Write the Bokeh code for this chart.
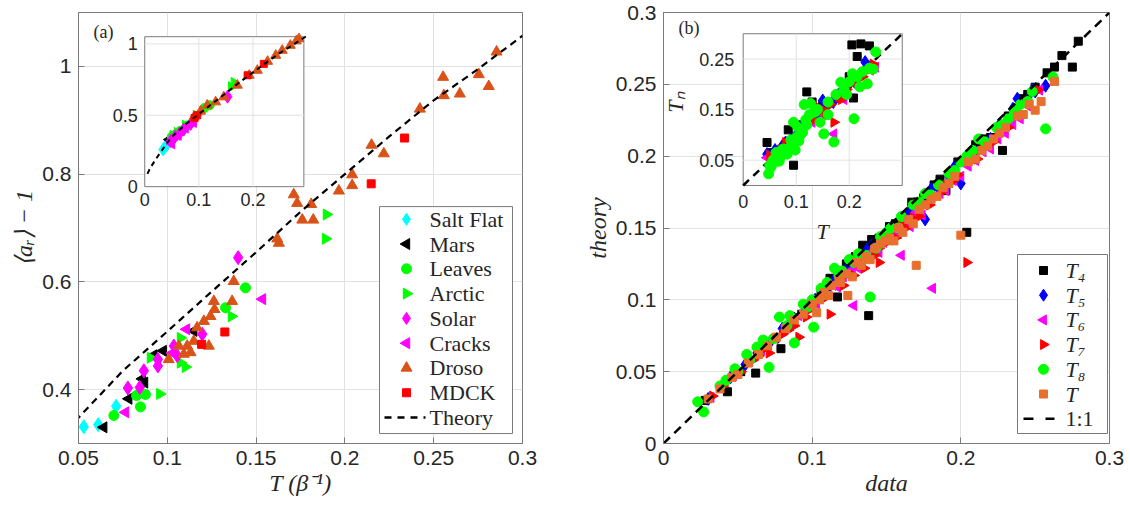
import math
from bokeh.plotting import figure
from bokeh.models import Range1d, FixedTicker, Label, CustomJSTickFormatter, ColumnDataSource
from bokeh.layouts import row
from bokeh.core.properties import value
from bokeh.embed import file_html
from bokeh.resources import INLINE

SANS = "Liberation Sans"
SERIF = "Liberation Serif"

# ---------------- Panel (a) data: T vs <a_r>-1 ----------------
salt_T = [0.053, 0.0611, 0.0712]
salt_a = [0.331, 0.335, 0.369]
mars_T = [0.0642, 0.0783, 0.0859, 0.0872, 0.0924, 0.0977, 0.1149]
mars_a = [0.330, 0.383, 0.420, 0.413, 0.464, 0.472, 0.509]
leaves_T = [0.0699, 0.0849, 0.0827, 0.0877, 0.1440, 0.1328]
leaves_a = [0.352, 0.368, 0.389, 0.391, 0.589, 0.552]
arctic_T = [0.0958, 0.0905, 0.1074, 0.1074, 0.1102, 0.1361, 0.1896, 0.1891]
arctic_a = [0.392, 0.459, 0.496, 0.450, 0.442, 0.536, 0.725, 0.680]
solar_T = [0.1399, 0.0778, 0.0845, 0.0868, 0.0947, 0.0947, 0.1037, 0.1197, 0.1056]
solar_a = [0.645, 0.403, 0.404, 0.435, 0.456, 0.444, 0.481, 0.503, 0.463]
cracks_T = [0.0765, 0.1108, 0.1536, 0.1029]
cracks_a = [0.358, 0.512, 0.568, 0.468]
droso_T = [0.1374, 0.1365, 0.1262, 0.1266, 0.1243, 0.1206, 0.1168, 0.1234, 0.1149, 0.1112,
           0.1131, 0.1093, 0.1065, 0.1008, 0.2854, 0.2553, 0.2557, 0.2647, 0.2754, 0.2810,
           0.2422, 0.2150, 0.2219, 0.2041, 0.2041, 0.1966, 0.1712, 0.1731, 0.1810, 0.1760,
           0.1822, 0.1619, 0.1628]
droso_a = [0.601, 0.564, 0.564, 0.549, 0.536, 0.527, 0.515, 0.481, 0.490, 0.481,
           0.469, 0.466, 0.481, 0.456, 1.027, 0.980, 0.946, 0.949, 0.985, 0.963,
           0.921, 0.854, 0.838, 0.799, 0.779, 0.769, 0.762, 0.746, 0.744, 0.715,
           0.715, 0.680, 0.672]
mdck_T = [0.2336, 0.2148, 0.1324, 0.1193]
mdck_a = [0.867, 0.782, 0.507, 0.484]
theory_T = [0.005, 0.01, 0.02, 0.03, 0.04, 0.05, 0.075, 0.1, 0.125, 0.15, 0.175, 0.2, 0.225, 0.25, 0.275, 0.3]
theory_a = [0.09, 0.13, 0.19, 0.245, 0.30, 0.348, 0.435, 0.508, 0.582, 0.655, 0.73, 0.80, 0.87, 0.937, 0.995, 1.057]

# inset (a) data
in_salt_T = [0.034, 0.038, 0.042]
in_salt_a = [0.26, 0.28, 0.30]
in_mars_T = [0.045, 0.050, 0.055, 0.060, 0.068]
in_mars_a = [0.33, 0.34, 0.36, 0.38, 0.40]
in_leaves_T = [0.050, 0.058, 0.065, 0.080, 0.110, 0.120]
in_leaves_a = [0.35, 0.37, 0.39, 0.43, 0.55, 0.57]
in_arctic_T = [0.052, 0.060, 0.075, 0.095, 0.160, 0.165]
in_arctic_a = [0.36, 0.38, 0.43, 0.50, 0.70, 0.73]
in_solar_T = [0.048, 0.056, 0.064, 0.072, 0.085, 0.153]
in_solar_a = [0.32, 0.35, 0.37, 0.40, 0.44, 0.63]
in_cracks_T = [0.050, 0.062, 0.075, 0.090]
in_cracks_a = [0.30, 0.36, 0.41, 0.45]
in_droso_T = [0.091, 0.103, 0.1155, 0.131, 0.146, 0.171, 0.193, 0.208, 0.227, 0.242, 0.254, 0.269, 0.280, 0.285]
in_droso_a = [0.488, 0.528, 0.570, 0.593, 0.628, 0.710, 0.779, 0.814, 0.877, 0.919, 0.954, 0.989, 1.02, 1.035]
in_mdck_T = [0.092, 0.097, 0.190, 0.220]
in_mdck_a = [0.48, 0.50, 0.78, 0.86]

a_xticks = [0.05, 0.1, 0.15, 0.2, 0.25, 0.3]
a_yticks = [0.4, 0.6, 0.8, 1.0]
ina_xticks = [0, 0.1, 0.2]
ina_xlabels = ["0", "0.1", "0.2"]
ina_yticks = [0, 0.5, 1]
ina_ylabels = ["0", "0.5", "1"]

# ---------------- Panel (b) data: data vs theory ----------------
t4_x = [0.028, 0.043, 0.052, 0.062, 0.070, 0.079, 0.086, 0.093, 0.100, 0.106, 0.112, 0.117, 0.123, 0.129,
        0.134, 0.140, 0.146, 0.152, 0.160, 0.167, 0.175, 0.182, 0.190, 0.198, 0.210, 0.220, 0.228, 0.240,
        0.250, 0.258, 0.263, 0.268, 0.275, 0.279, 0.138, 0.204,
        0.075, 0.097, 0.108, 0.114, 0.126, 0.145, 0.156, 0.171, 0.186, 0.215, 0.232, 0.245]
t4_y = [0.030, 0.036, 0.050, 0.049, 0.068, 0.066, 0.086, 0.090, 0.098, 0.106, 0.115, 0.102, 0.125, 0.130,
        0.138, 0.142, 0.140, 0.151, 0.156, 0.168, 0.171, 0.180, 0.176, 0.196, 0.208, 0.213, 0.204, 0.240,
        0.248, 0.258, 0.262, 0.270, 0.262, 0.280, 0.089, 0.147,
        0.073, 0.095, 0.104, 0.110, 0.122, 0.143, 0.153, 0.168, 0.184, 0.212, 0.228, 0.243]
t5_x = [0.030, 0.045, 0.055, 0.063, 0.072, 0.080, 0.088, 0.095, 0.102, 0.108, 0.115, 0.122, 0.130, 0.137,
        0.145, 0.153, 0.160, 0.168, 0.176, 0.184, 0.192, 0.200, 0.210, 0.220, 0.230, 0.238, 0.244, 0.250, 0.257,
        0.085, 0.098, 0.112, 0.126, 0.140, 0.150, 0.165, 0.180, 0.196, 0.205, 0.215, 0.226, 0.235, 0.248]
t5_y = [0.031, 0.046, 0.055, 0.063, 0.071, 0.080, 0.087, 0.095, 0.100, 0.108, 0.114, 0.120, 0.128, 0.135,
        0.142, 0.150, 0.156, 0.163, 0.156, 0.179, 0.186, 0.181, 0.203, 0.212, 0.222, 0.240, 0.238, 0.245, 0.249,
        0.083, 0.096, 0.110, 0.124, 0.138, 0.146, 0.161, 0.177, 0.193, 0.199, 0.209, 0.222, 0.233, 0.246]
t6_x = [0.032, 0.047, 0.058, 0.066, 0.075, 0.083, 0.091, 0.099, 0.107, 0.114, 0.121, 0.127, 0.134, 0.141,
        0.148, 0.155, 0.162, 0.170, 0.178, 0.186, 0.195, 0.205, 0.215, 0.225, 0.235, 0.245, 0.253, 0.128,
        0.181, 0.160,
        0.088, 0.103, 0.117, 0.131, 0.145, 0.158, 0.166, 0.174, 0.190, 0.200, 0.210, 0.220, 0.230, 0.240]
t6_y = [0.032, 0.047, 0.057, 0.065, 0.073, 0.082, 0.089, 0.097, 0.103, 0.110, 0.116, 0.121, 0.128, 0.134,
        0.140, 0.147, 0.153, 0.161, 0.168, 0.174, 0.183, 0.193, 0.203, 0.212, 0.222, 0.235, 0.246, 0.096,
        0.108, 0.131,
        0.084, 0.097, 0.109, 0.122, 0.133, 0.146, 0.151, 0.159, 0.176, 0.186, 0.197, 0.205, 0.216, 0.226]
t7_x = [0.033, 0.040, 0.052, 0.060, 0.068, 0.071, 0.080, 0.088, 0.091, 0.098, 0.105, 0.112, 0.118, 0.124,
        0.131, 0.138, 0.145, 0.152, 0.160, 0.168, 0.175, 0.183, 0.190, 0.198, 0.206, 0.215, 0.225, 0.235,
        0.244, 0.252, 0.204, 0.145,
        0.064, 0.084, 0.096, 0.108, 0.121, 0.128, 0.135, 0.142, 0.156, 0.163, 0.172, 0.179, 0.187, 0.195,
        0.211, 0.222, 0.232]
t7_y = [0.033, 0.040, 0.050, 0.058, 0.066, 0.063, 0.076, 0.082, 0.074, 0.093, 0.100, 0.090, 0.113, 0.118,
        0.126, 0.130, 0.136, 0.141, 0.152, 0.157, 0.166, 0.172, 0.180, 0.187, 0.196, 0.206, 0.218, 0.228,
        0.238, 0.246, 0.126, 0.126,
        0.061, 0.079, 0.088, 0.101, 0.110, 0.117, 0.122, 0.131, 0.143, 0.150, 0.158, 0.166, 0.175, 0.183,
        0.198, 0.210, 0.220]
t8_x = [0.023, 0.027, 0.038, 0.042, 0.050, 0.056, 0.063, 0.067, 0.071, 0.078, 0.083, 0.088, 0.094, 0.101,
        0.106, 0.110, 0.115, 0.120, 0.125, 0.131, 0.139, 0.146, 0.153, 0.160, 0.168, 0.176, 0.185, 0.192,
        0.200, 0.208, 0.216, 0.224, 0.232, 0.240, 0.248, 0.257, 0.262, 0.063, 0.100,
        0.048, 0.058, 0.074, 0.085, 0.097, 0.108, 0.118, 0.128, 0.136, 0.143, 0.150, 0.158, 0.172, 0.180,
        0.196, 0.204, 0.212, 0.228, 0.236, 0.245]
t8_y = [0.029, 0.022, 0.040, 0.044, 0.050, 0.062, 0.067, 0.072, 0.053, 0.088, 0.082, 0.070, 0.097, 0.081,
        0.108, 0.112, 0.122, 0.120, 0.128, 0.132, 0.102, 0.144, 0.150, 0.158, 0.166, 0.174, 0.180, 0.188,
        0.196, 0.204, 0.210, 0.220, 0.226, 0.236, 0.245, 0.219, 0.255, 0.067, 0.100,
        0.052, 0.058, 0.073, 0.089, 0.095, 0.104, 0.117, 0.126, 0.131, 0.136, 0.147, 0.150, 0.168, 0.173,
        0.190, 0.200, 0.212, 0.222, 0.231, 0.238]
tt_x = [0.030, 0.038, 0.046, 0.050, 0.057, 0.064, 0.070, 0.076, 0.082, 0.088, 0.094, 0.100, 0.103, 0.108,
        0.113, 0.118, 0.123, 0.124, 0.130, 0.136, 0.142, 0.146, 0.152, 0.158, 0.165, 0.172, 0.180, 0.188,
        0.196, 0.205, 0.214, 0.222, 0.230, 0.238, 0.246, 0.254, 0.263, 0.170, 0.200,
        0.105, 0.111, 0.119, 0.127, 0.133, 0.139, 0.149, 0.155, 0.161, 0.168, 0.176, 0.184, 0.192, 0.210,
        0.218, 0.226, 0.242, 0.250]
tt_y = [0.031, 0.038, 0.046, 0.048, 0.056, 0.062, 0.068, 0.074, 0.080, 0.086, 0.090, 0.097, 0.091, 0.105,
        0.110, 0.114, 0.118, 0.103, 0.126, 0.130, 0.136, 0.139, 0.143, 0.150, 0.156, 0.163, 0.170, 0.178,
        0.186, 0.196, 0.204, 0.212, 0.220, 0.228, 0.236, 0.238, 0.252, 0.124, 0.145,
        0.100, 0.103, 0.112, 0.116, 0.124, 0.128, 0.141, 0.141, 0.147, 0.153, 0.166, 0.172, 0.181, 0.198,
        0.207, 0.216, 0.229, 0.232]
one_to_one = [0.0, 0.3]

# inset (b): T vs T_n
in4_x = [0.045, 0.055, 0.070, 0.085, 0.095, 0.105, 0.120, 0.130, 0.150, 0.175, 0.200, 0.205, 0.215, 0.222, 0.238, 0.208]
in4_y = [0.085, 0.065, 0.060, 0.110, 0.040, 0.120, 0.185, 0.165, 0.160, 0.175, 0.215, 0.278, 0.255, 0.280, 0.276, 0.173]
in5_x = [0.045, 0.060, 0.075, 0.090, 0.110, 0.130, 0.150, 0.170, 0.190, 0.210, 0.230, 0.240,
         0.055, 0.080, 0.100, 0.120, 0.140, 0.160, 0.180, 0.200, 0.220]
in5_y = [0.062, 0.070, 0.080, 0.090, 0.115, 0.135, 0.168, 0.165, 0.190, 0.205, 0.244, 0.235,
         0.060, 0.085, 0.100, 0.125, 0.140, 0.160, 0.180, 0.200, 0.220]
in6_x = [0.045, 0.065, 0.085, 0.110, 0.130, 0.150, 0.171, 0.190, 0.215, 0.240, 0.250]
in6_y = [0.055, 0.065, 0.080, 0.110, 0.125, 0.140, 0.102, 0.170, 0.200, 0.228, 0.234]
in7_x = [0.050, 0.061, 0.080, 0.095, 0.110, 0.125, 0.140, 0.155, 0.171, 0.185, 0.200, 0.215, 0.230, 0.245,
         0.070, 0.085, 0.100, 0.118, 0.132, 0.150, 0.165, 0.180, 0.195, 0.210, 0.225]
in7_y = [0.060, 0.050, 0.085, 0.075, 0.110, 0.125, 0.155, 0.140, 0.125, 0.170, 0.200, 0.210, 0.225, 0.240,
         0.070, 0.080, 0.095, 0.120, 0.130, 0.150, 0.160, 0.175, 0.190, 0.205, 0.215]
in8_x = [0.048, 0.052, 0.058, 0.065, 0.072, 0.080, 0.088, 0.096, 0.100, 0.105, 0.112, 0.120, 0.127, 0.135,
         0.145, 0.152, 0.160, 0.171, 0.184, 0.195, 0.206, 0.209, 0.220, 0.234, 0.245, 0.250, 0.095, 0.115,
         0.050, 0.056, 0.062, 0.068, 0.075, 0.083, 0.090, 0.098, 0.103, 0.108, 0.118, 0.125, 0.140, 0.160,
         0.175, 0.190, 0.200, 0.215, 0.225, 0.238]
in8_y = [0.023, 0.036, 0.045, 0.055, 0.060, 0.070, 0.075, 0.082, 0.095, 0.088, 0.105, 0.120, 0.162, 0.145,
         0.125, 0.102, 0.140, 0.086, 0.204, 0.180, 0.221, 0.132, 0.195, 0.201, 0.230, 0.264, 0.125, 0.160,
         0.040, 0.050, 0.065, 0.048, 0.072, 0.062, 0.090, 0.070, 0.115, 0.100, 0.130, 0.140, 0.150, 0.165,
         0.180, 0.190, 0.205, 0.215, 0.225, 0.232]

b_ticks = [0, 0.05, 0.1, 0.15, 0.2, 0.25, 0.3]
b_xticks = [0, 0.1, 0.2, 0.3]
inb_xticks = [0, 0.1, 0.2]
inb_xlabels = ["0", "0.1", "0.2"]
inb_yticks = [0.05, 0.15, 0.25]
inb_ylabels = ["0.05", "0.15", "0.25"]

# ---------------- styling / layout constants ----------------
AX = "#7a7a7a"
TXT = "#262626"
GRID = "#e2e2e2"

# legend boxes, in pixels measured from the frame's bottom-left corner
LEG_A = dict(left=301, right=434, bottom=10, top=238, mark_x=328, text_x=351,
             line=(306, 347), row0=225.3, dy=24.9)
LEG_B = dict(left=354, right=444, bottom=10, top=189, mark_x=380, text_x=402,
             line=(360, 391), row0=173.0, dy=24.7)


def style(p):
    p.outline_line_color = AX
    p.outline_line_width = 1
    p.grid.grid_line_color = GRID
    p.grid.grid_line_width = 1
    for ax in p.axis:
        ax.axis_line_color = AX
        ax.major_tick_line_color = AX
        ax.major_tick_in = 6
        ax.major_tick_out = 0
        ax.minor_tick_line_color = None
        ax.major_label_text_font = SANS
        ax.major_label_text_font_size = "21px"
        ax.major_label_text_color = TXT
        ax.major_label_standoff = 7
        ax.axis_label_text_font = SERIF
        ax.axis_label_text_font_size = "24px"
        ax.axis_label_text_color = TXT
        ax.axis_label_standoff = 2
        ax.formatter = CustomJSTickFormatter(code="return String(+tick.toFixed(3));")


def add_points(api, xs, ys, mk, col, ang, sz):
    src = ColumnDataSource(dict(x=xs, y=ys, rot=[ang] * len(xs)))
    return api.scatter("x", "y", source=src, marker=mk, size=sz, angle="rot",
                       fill_color=col, line_color=col)


def draw_legend(p, series, line_label, line_dash, spec, fw, fh, xr, yr, label_style):
    """Legend drawn with glyphs so that rotated triangle keys keep their orientation."""
    def X(px):
        return xr[0] + px / fw * (xr[1] - xr[0])

    def Y(py):
        return yr[0] + py / fh * (yr[1] - yr[0])

    p.quad(left=[X(spec["left"])], right=[X(spec["right"])], bottom=[Y(spec["bottom"])],
           top=[Y(spec["top"])], fill_color="white", line_color=AX, line_width=1)
    n = len(series)
    ys = [Y(spec["row0"] - i * spec["dy"]) for i in range(n + 1)]
    for i, (name, _, _, _, _, mk, col, ang, sz) in enumerate(series):
        add_points(p, [X(spec["mark_x"])], [ys[i]], mk, col, ang, min(sz, 12))
    p.line([X(spec["line"][0]), X(spec["line"][1])], [ys[n], ys[n]], line_color="black",
           line_width=2.5, line_dash=line_dash)
    labels = [s[0] for s in series]
    p.text(x=[X(spec["text_x"])] * n, y=ys[:n], text=labels, text_baseline="middle",
           text_align="left", text_font=value(SERIF), text_font_style=label_style,
           text_font_size="22px", text_color=TXT)
    p.text(x=[X(spec["text_x"])], y=[ys[n]], text=[line_label], text_baseline="middle",
           text_align="left", text_font=value(SERIF), text_font_size="22px", text_color=TXT)


CYAN, GREEN, MAG, DRO, RED = "#00ffff", "#00ff00", "#ff00ff", "#d95319", "#ff0000"
BLUE, ORG = "#0000ff", "#e8702e"
L, R = math.pi / 2, -math.pi / 2

# ================= Panel (a) =================
A_XR, A_YR = (0.05, 0.3), (0.3, 1.1)
pa = figure(width=565, height=506, x_range=Range1d(*A_XR), y_range=Range1d(*A_YR),
            output_backend="svg", toolbar_location=None,
            min_border_left=78, min_border_right=43, min_border_top=10, min_border_bottom=63)
pa.xaxis.ticker = FixedTicker(ticks=a_xticks)
pa.yaxis.ticker = FixedTicker(ticks=a_yticks)
pa.xaxis.axis_label = "T (β⁻¹)"
pa.yaxis.axis_label = "⟨aᵣ⟩ − 1"
style(pa)
pa.xaxis.axis_label_text_font_style = "italic"
pa.yaxis.axis_label_text_font_style = "italic"

series_a = [
    ("Salt Flat", salt_T, salt_a, in_salt_T, in_salt_a, "diamond", CYAN, 0.0, 14),
    ("Mars", mars_T, mars_a, in_mars_T, in_mars_a, "triangle", "black", L, 11),
    ("Leaves", leaves_T, leaves_a, in_leaves_T, in_leaves_a, "circle", GREEN, 0.0, 10),
    ("Arctic", arctic_T, arctic_a, in_arctic_T, in_arctic_a, "triangle", GREEN, R, 11),
    ("Solar", solar_T, solar_a, in_solar_T, in_solar_a, "diamond", MAG, 0.0, 14),
    ("Cracks", cracks_T, cracks_a, in_cracks_T, in_cracks_a, "triangle", MAG, L, 11),
    ("Droso", droso_T, droso_a, in_droso_T, in_droso_a, "triangle", DRO, 0.0, 11),
    ("MDCK", mdck_T, mdck_a, in_mdck_T, in_mdck_a, "square", RED, 0.0, 8),
]
for name, xs, ys, _, _, mk, col, ang, sz in series_a:
    add_points(pa, xs, ys, mk, col, ang, sz)
pa.line(theory_T, theory_a, line_color="black", line_width=2.2, line_dash="7 5")
draw_legend(pa, series_a, "Theory", "7 6", LEG_A, 444, 433, A_XR, A_YR, "normal")
pa.add_layout(Label(x=0.0584, y=1.063, text="(a)", text_font=SERIF, text_font_size="18px",
                    text_color=TXT, text_baseline="middle"))

# inset (a)
ina_xr, ina_yr = (0.0, 0.294), (0.0, 1.05)
ina = pa.subplot(x_source=Range1d(*ina_xr), y_source=Range1d(*ina_yr),
                 x_target=Range1d(0.0873, 0.1769), y_target=Range1d(0.7767, 1.0551))
ina.quad(left=[ina_xr[0]], right=[ina_xr[1]], bottom=[ina_yr[0]], top=[ina_yr[1]],
         fill_color="white", line_color=AX, line_width=1)
ina.segment(x0=ina_xticks[1:], y0=[ina_yr[0]] * 2, x1=ina_xticks[1:], y1=[ina_yr[1]] * 2, line_color=GRID)
ina.segment(x0=[ina_xr[0]] * 2, y0=ina_yticks[1:], x1=[ina_xr[1]] * 2, y1=ina_yticks[1:], line_color=GRID)
ina.text(x=ina_xticks, y=[ina_yr[0]] * 3, text=ina_xlabels, y_offset=6, text_align="center",
         text_baseline="top", text_font=value(SANS), text_font_size="18px", text_color=TXT)
ina.text(x=[ina_xr[0]] * 3, y=ina_yticks, text=ina_ylabels, x_offset=-7, text_align="right",
         text_baseline="middle", text_font=value(SANS), text_font_size="18px", text_color=TXT)
for name, _, _, xs, ys, mk, col, ang, sz in series_a:
    add_points(ina, xs, ys, mk, col, ang, sz - 1)
ina.line(theory_T, theory_a, line_color="black", line_width=2, line_dash="5 4")

# ================= Panel (b) =================
B_R = (0.0, 0.3)
pb = figure(width=563, height=506, x_range=Range1d(*B_R), y_range=Range1d(*B_R),
            output_backend="svg", toolbar_location=None,
            min_border_left=98, min_border_right=19, min_border_top=12, min_border_bottom=63)
pb.xaxis.ticker = FixedTicker(ticks=b_xticks)
pb.yaxis.ticker = FixedTicker(ticks=b_ticks)
pb.xaxis.axis_label = "data"
pb.yaxis.axis_label = "theory"
style(pb)

series_b = [
    ("T₄", t4_x, t4_y, in4_x, in4_y, "square", "black", 0.0, 8),
    ("T₅", t5_x, t5_y, in5_x, in5_y, "diamond", BLUE, 0.0, 13),
    ("T₆", t6_x, t6_y, in6_x, in6_y, "triangle", MAG, L, 10),
    ("T₇", t7_x, t7_y, in7_x, in7_y, "triangle", RED, R, 10),
    ("T₈", t8_x, t8_y, in8_x, in8_y, "circle", GREEN, 0.0, 10),
    ("T", tt_x, tt_y, None, None, "square", ORG, 0.0, 8),
]
for name, xs, ys, _, _, mk, col, ang, sz in series_b:
    add_points(pb, xs, ys, mk, col, ang, sz)
pb.line(one_to_one, one_to_one, line_color="black", line_width=2.5, line_dash="9 6")
draw_legend(pb, series_b, "1:1", "10 12", LEG_B, 446, 431, B_R, B_R, "italic")
pb.add_layout(Label(x=0.0101, y=0.2889, text="(b)", text_font=SERIF, text_font_size="18px",
                    text_color=TXT, text_baseline="middle"))

# inset (b)
inb_r = (0.0, 0.3)
inb = pb.subplot(x_source=Range1d(*inb_r), y_source=Range1d(*inb_r),
                 x_target=Range1d(0.0536, 0.1606), y_target=Range1d(0.1796, 0.2852))
inb.quad(left=[inb_r[0]], right=[inb_r[1]], bottom=[inb_r[0]], top=[inb_r[1]],
         fill_color="white", line_color=AX, line_width=1)
inb.segment(x0=inb_xticks[1:], y0=[inb_r[0]] * 2, x1=inb_xticks[1:], y1=[inb_r[1]] * 2, line_color=GRID)
inb.segment(x0=[inb_r[0]] * 3, y0=inb_yticks, x1=[inb_r[1]] * 3, y1=inb_yticks, line_color=GRID)
inb.text(x=inb_xticks, y=[inb_r[0]] * 3, text=inb_xlabels, y_offset=10, text_align="center",
         text_baseline="top", text_font=value(SANS), text_font_size="18px", text_color=TXT)
inb.text(x=[inb_r[0]] * 3, y=inb_yticks, text=inb_ylabels, x_offset=-9, text_align="right",
         text_baseline="middle", text_font=value(SANS), text_font_size="18px", text_color=TXT)
inb.text(x=[0.15], y=[inb_r[0]], text=["T"], y_offset=34, text_align="center", text_baseline="top",
         text_font=value(SERIF), text_font_style="italic", text_font_size="22px", text_color=TXT)
inb.text(x=[inb_r[0]], y=[0.165], text=["Tₙ"], x_offset=-68, angle=math.pi / 2, text_align="center",
         text_baseline="middle", text_font=value(SERIF), text_font_style="italic",
         text_font_size="22px", text_color=TXT)
inb.line(one_to_one, one_to_one, line_color="black", line_width=2.5, line_dash="8 6")
for name, _, _, xs, ys, mk, col, ang, sz in series_b:
    if xs is None:
        continue
    add_points(inb, xs, ys, mk, col, ang, sz)

layout = row(pa, pb, spacing=0)
open("out.html", "w").write(file_html(layout, INLINE))
